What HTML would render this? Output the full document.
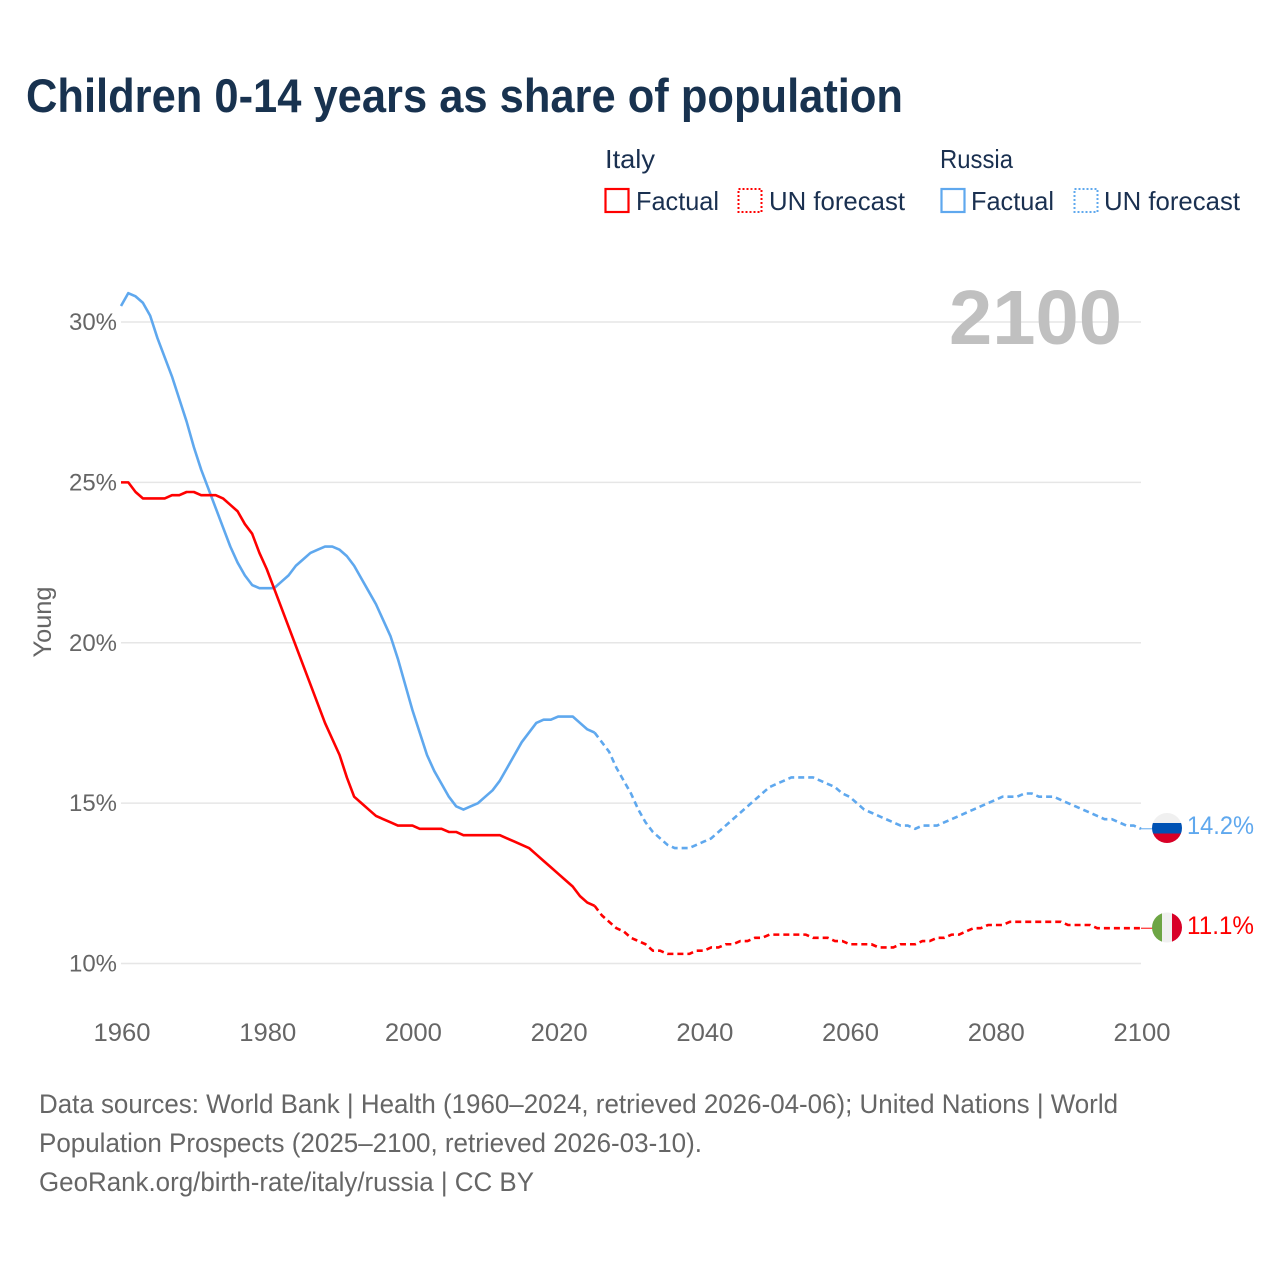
<!DOCTYPE html>
<html lang="en">
<head>
<meta charset="utf-8">
<title>Children 0-14 years as share of population</title>
<style>
html,body{margin:0;padding:0;background:#fff;width:1280px;height:1280px;overflow:hidden}
svg{display:block}
text{font-family:"Liberation Sans",sans-serif}
</style>
</head>
<body>
<svg id="chart" xmlns="http://www.w3.org/2000/svg" width="1280" height="1280" viewBox="0 0 1280 1280">
  <defs>
    <clipPath id="flag-clip-ru"><circle cx="1167" cy="828" r="15"/></clipPath>
    <clipPath id="flag-clip-it"><circle cx="1167" cy="927.5" r="15"/></clipPath>
  </defs>
  <rect x="0" y="0" width="1280" height="1280" fill="#fff"/>
  <text x="26" y="112" font-size="47" font-weight="700" fill="#18324f" textLength="877" lengthAdjust="spacingAndGlyphs">Children 0-14 years as share of population</text>

  <g>
    <text x="605" y="168" font-size="26" fill="#1a3050" textLength="50" lengthAdjust="spacingAndGlyphs">Italy</text>
    <text x="940" y="168" font-size="26" fill="#1a3050" textLength="73" lengthAdjust="spacingAndGlyphs">Russia</text>
    <g>
      <rect x="605.5" y="189" width="23" height="23" fill="none" stroke="#ff0000" stroke-width="2.2"/>
      <text x="636" y="210" font-size="26" fill="#1a3050" textLength="83" lengthAdjust="spacingAndGlyphs">Factual</text>
    </g>
    <g>
      <rect x="738.5" y="189" width="23" height="23" fill="none" stroke="#ff0000" stroke-width="2" stroke-dasharray="2 2"/>
      <text x="769" y="210" font-size="26" fill="#1a3050" textLength="136" lengthAdjust="spacingAndGlyphs">UN forecast</text>
    </g>
    <g>
      <rect x="941.5" y="189" width="23" height="23" fill="none" stroke="#5fa8ee" stroke-width="2.2"/>
      <text x="971" y="210" font-size="26" fill="#1a3050" textLength="83" lengthAdjust="spacingAndGlyphs">Factual</text>
    </g>
    <g>
      <rect x="1074.5" y="189" width="23" height="23" fill="none" stroke="#5fa8ee" stroke-width="2" stroke-dasharray="2 2"/>
      <text x="1104" y="210" font-size="26" fill="#1a3050" textLength="136" lengthAdjust="spacingAndGlyphs">UN forecast</text>
    </g>
  </g>

  <g id="grid"></g>
  <text x="949" y="344" font-size="77" font-weight="700" fill="#c0c0c0" textLength="173" lengthAdjust="spacingAndGlyphs">2100</text>
  <g id="y-ticks"></g>
  <g id="x-ticks"></g>
  <text transform="translate(51 622) rotate(-90)" text-anchor="middle" font-size="25" fill="#666" textLength="71" lengthAdjust="spacingAndGlyphs">Young</text>
  <g id="series"></g>

  <g clip-path="url(#flag-clip-ru)">
    <rect x="1152" y="813" width="30" height="10.5" fill="#f0f0f0"/>
    <rect x="1152" y="823" width="30" height="10.5" fill="#0052b4"/>
    <rect x="1152" y="833.5" width="30" height="10" fill="#d80027"/>
  </g>
  <g clip-path="url(#flag-clip-it)">
    <rect x="1152" y="912" width="10" height="31" fill="#6da544"/>
    <rect x="1162" y="912" width="10" height="31" fill="#f0f0f0"/>
    <rect x="1172" y="912" width="10" height="31" fill="#d80027"/>
  </g>
  <text x="1187" y="834" font-size="25" fill="#5fa8ee" textLength="67" lengthAdjust="spacingAndGlyphs">14.2%</text>
  <text x="1187" y="934" font-size="25" fill="#ff0000" textLength="67" lengthAdjust="spacingAndGlyphs">11.1%</text>

  <g>
    <text x="39" y="1113" font-size="27" fill="#666" textLength="1079" lengthAdjust="spacingAndGlyphs">Data sources: World Bank | Health (1960–2024, retrieved 2026-04-06); United Nations | World</text>
    <text x="39" y="1152" font-size="27" fill="#666" textLength="663" lengthAdjust="spacingAndGlyphs">Population Prospects (2025–2100, retrieved 2026-03-10).</text>
    <text x="39" y="1191" font-size="27" fill="#666" textLength="495" lengthAdjust="spacingAndGlyphs">GeoRank.org/birth-rate/italy/russia | CC BY</text>
  </g>
</svg>
<script>
const factualYearStart = 1960;
const forecastYearStart = 2025;
const xTickYears = [1960, 1980, 2000, 2020, 2040, 2060, 2080, 2100];
const yTickValues = [10, 15, 20, 25, 30];
const italyFactual = [
  25.0,25.0,24.7,24.5,24.5,24.5,24.5,24.6,24.6,24.7,
  24.7,24.6,24.6,24.6,24.5,24.3,24.1,23.7,23.4,22.8,
  22.3,21.7,21.1,20.5,19.9,19.3,18.7,18.1,17.5,17.0,
  16.5,15.8,15.2,15.0,14.8,14.6,14.5,14.4,14.3,14.3,
  14.3,14.2,14.2,14.2,14.2,14.1,14.1,14.0,14.0,14.0,
  14.0,14.0,14.0,13.9,13.8,13.7,13.6,13.4,13.2,13.0,
  12.8,12.6,12.4,12.1,11.9,11.8
];
const italyForecast = [
  11.8,11.5,11.3,11.1,11.0,10.8,10.7,10.6,10.4,10.4,
  10.3,10.3,10.3,10.3,10.4,10.4,10.5,10.5,10.6,10.6,
  10.7,10.7,10.8,10.8,10.9,10.9,10.9,10.9,10.9,10.9,
  10.8,10.8,10.8,10.7,10.7,10.6,10.6,10.6,10.6,10.5,
  10.5,10.5,10.6,10.6,10.6,10.7,10.7,10.8,10.8,10.9,
  10.9,11.0,11.1,11.1,11.2,11.2,11.2,11.3,11.3,11.3,
  11.3,11.3,11.3,11.3,11.3,11.2,11.2,11.2,11.2,11.1,
  11.1,11.1,11.1,11.1,11.1,11.1
];
const russiaFactual = [
  30.5,30.9,30.8,30.6,30.2,29.5,28.9,28.3,27.6,26.9,
  26.1,25.4,24.8,24.2,23.6,23.0,22.5,22.1,21.8,21.7,
  21.7,21.7,21.9,22.1,22.4,22.6,22.8,22.9,23.0,23.0,
  22.9,22.7,22.4,22.0,21.6,21.2,20.7,20.2,19.5,18.7,
  17.9,17.2,16.5,16.0,15.6,15.2,14.9,14.8,14.9,15.0,
  15.2,15.4,15.7,16.1,16.5,16.9,17.2,17.5,17.6,17.6,
  17.7,17.7,17.7,17.5,17.3,17.2
];
const russiaForecast = [
  17.2,16.9,16.6,16.1,15.7,15.3,14.8,14.4,14.1,13.9,
  13.7,13.6,13.6,13.6,13.7,13.8,13.9,14.1,14.3,14.5,
  14.7,14.9,15.1,15.3,15.5,15.6,15.7,15.8,15.8,15.8,
  15.8,15.7,15.6,15.5,15.3,15.2,15.0,14.8,14.7,14.6,
  14.5,14.4,14.3,14.3,14.2,14.3,14.3,14.3,14.4,14.5,
  14.6,14.7,14.8,14.9,15.0,15.1,15.2,15.2,15.2,15.3,
  15.3,15.2,15.2,15.2,15.1,15.0,14.9,14.8,14.7,14.6,
  14.5,14.5,14.4,14.3,14.3,14.2
];

const NS = 'http://www.w3.org/2000/svg';
function xScale(year) { return 121 + (year - 1960) * (1141 - 121) / 140; }
function yScale(v) { return 963.5 - (v - 10) * (963.5 - 322) / 20; }
function linePath(values, startYear) {
  return values.map(function (v, i) {
    return (i ? 'L' : 'M') + xScale(startYear + i).toFixed(2) + ' ' + yScale(v).toFixed(2);
  }).join('');
}

const gridGroup = document.getElementById('grid');
const yTickGroup = document.getElementById('y-ticks');
yTickValues.forEach(function (v) {
  const g = document.createElementNS(NS, 'line');
  
  
  g.setAttribute('x1', 121);
  g.setAttribute('x2', 1141);
  g.setAttribute('y1', yScale(v));
  g.setAttribute('y2', yScale(v));
  g.setAttribute('stroke', '#e6e6e6');
  g.setAttribute('stroke-width', '1.4');
  gridGroup.appendChild(g);
  const t = document.createElementNS(NS, 'text');
  
  
  t.setAttribute('x', 117);
  t.setAttribute('y', yScale(v) + 8);
  t.setAttribute('text-anchor', 'end');
  t.setAttribute('font-size', '24');
  t.setAttribute('fill', '#666');
  t.setAttribute('textLength', '48');
  t.setAttribute('lengthAdjust', 'spacingAndGlyphs');
  t.textContent = v + '%';
  yTickGroup.appendChild(t);
});

const xTickGroup = document.getElementById('x-ticks');
xTickYears.forEach(function (y) {
  const t = document.createElementNS(NS, 'text');
  
  
  t.setAttribute('x', xScale(y) + 1);
  t.setAttribute('y', 1041);
  t.setAttribute('text-anchor', 'middle');
  t.setAttribute('font-size', '25');
  t.setAttribute('fill', '#666');
  t.setAttribute('textLength', '57');
  t.setAttribute('lengthAdjust', 'spacingAndGlyphs');
  t.textContent = y;
  xTickGroup.appendChild(t);
});

const seriesGroup = document.getElementById('series');
function addLine(values, startYear, color, dashed, name) {
  const p = document.createElementNS(NS, 'path');
  
  
  p.setAttribute('d', linePath(values, startYear));
  p.setAttribute('fill', 'none');
  p.setAttribute('stroke', color);
  p.setAttribute('stroke-width', '2.6');
  p.setAttribute('stroke-linejoin', 'round');
  if (dashed) p.setAttribute('stroke-dasharray', '6 4');
  seriesGroup.appendChild(p);
}
function addConnector(value, color, name) {
  const c = document.createElementNS(NS, 'line');
  
  
  c.setAttribute('x1', xScale(2100));
  c.setAttribute('x2', 1153);
  c.setAttribute('y1', yScale(value));
  c.setAttribute('y2', yScale(value));
  c.setAttribute('stroke', color);
  c.setAttribute('stroke-width', '1');
  seriesGroup.appendChild(c);
}
addLine(russiaFactual, factualYearStart, '#5fa8ee', false, 'line-russia-factual');
addLine(russiaForecast, forecastYearStart, '#5fa8ee', true, 'line-russia-forecast');
addLine(italyFactual, factualYearStart, '#ff0000', false, 'line-italy-factual');
addLine(italyForecast, forecastYearStart, '#ff0000', true, 'line-italy-forecast');
addConnector(russiaForecast[russiaForecast.length - 1], '#5fa8ee', 'connector-russia');
addConnector(italyForecast[italyForecast.length - 1], '#ff0000', 'connector-italy');
</script>
</body>
</html>
